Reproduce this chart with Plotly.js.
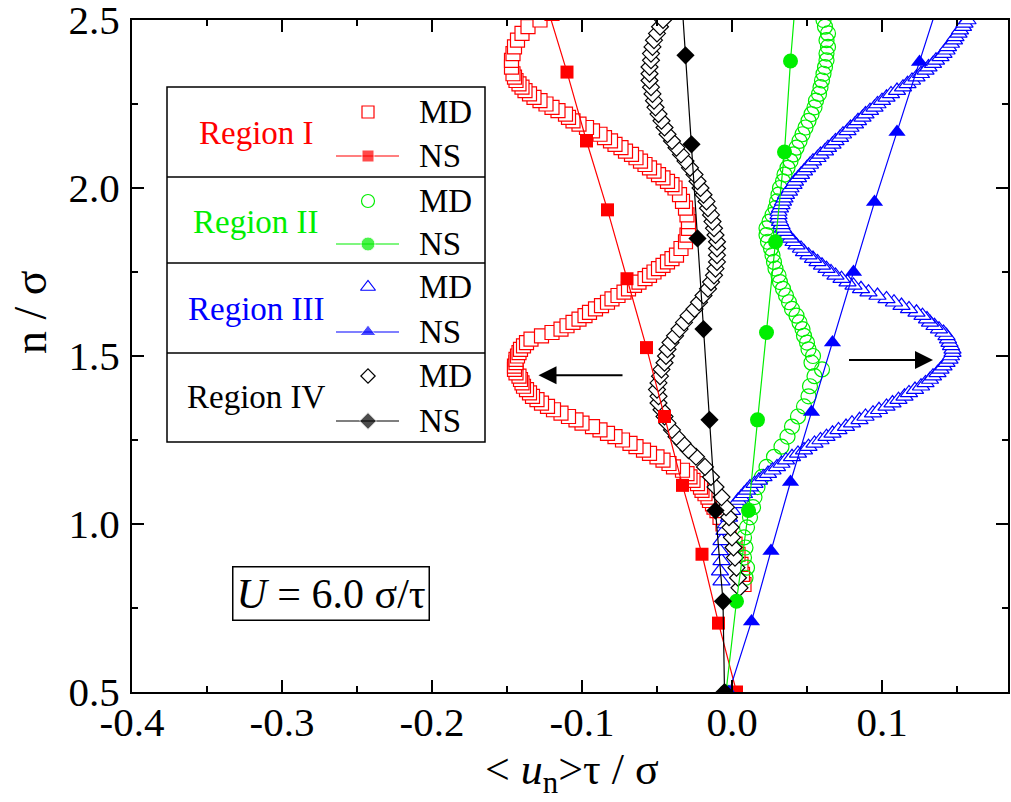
<!DOCTYPE html>
<html>
<head>
<meta charset="utf-8">
<script src="https://cdn.plot.ly/plotly-3.0.1.min.js"></script>
<style>body{margin:0;background:#fff}</style>
</head>
<body>
<div id="chart" style="width:1011px;height:802px"></div>
<script>
// MD profiles (open symbols): n/sigma and <u_n> tau/sigma
var mdN_I = [0.82,0.85,0.88,0.91,0.94,0.97,1.00,1.02,1.04,1.05,
    1.06,1.07,1.08,1.09,1.10,1.11,1.12,1.13,1.14,1.15,
    1.16,1.17,1.18,1.19,1.20,1.21,1.22,1.23,1.24,1.25,
    1.26,1.27,1.28,1.29,1.30,1.31,1.32,1.33,1.34,1.35,
    1.36,1.37,1.38,1.39,1.40,1.41,1.42,1.43,1.44,1.45,
    1.46,1.47,1.48,1.49,1.50,1.51,1.52,1.53,1.54,1.55,
    1.56,1.57,1.58,1.59,1.60,1.61,1.62,1.63,1.64,1.65,
    1.66,1.67,1.68,1.69,1.70,1.71,1.72,1.73,1.74,1.75,
    1.76,1.77,1.78,1.79,1.80,1.82,1.84,1.86,1.88,1.90,
    1.92,1.94,1.96,1.98,2.00,2.01,2.02,2.03,2.04,2.05,
    2.06,2.07,2.08,2.09,2.10,2.11,2.12,2.13,2.14,2.15,
    2.16,2.17,2.18,2.19,2.20,2.21,2.22,2.23,2.24,2.25,
    2.26,2.27,2.28,2.29,2.30,2.31,2.32,2.33,2.34,2.36,
    2.38,2.40,2.42,2.44,2.46,2.48,2.50,2.52];
var mdU_I = [0.008,0.007,0.006,0.004,0.002,-0.002,-0.006,-0.008,-0.010,-0.012,
    -0.013,-0.015,-0.016,-0.018,-0.020,-0.021,-0.023,-0.026,-0.028,-0.030,
    -0.033,-0.039,-0.042,-0.046,-0.050,-0.055,-0.059,-0.064,-0.068,-0.073,
    -0.078,-0.083,-0.088,-0.093,-0.100,-0.104,-0.109,-0.114,-0.119,-0.123,
    -0.127,-0.130,-0.133,-0.135,-0.137,-0.139,-0.140,-0.141,-0.142,-0.144,
    -0.145,-0.145,-0.144,-0.144,-0.143,-0.142,-0.141,-0.139,-0.137,-0.134,
    -0.127,-0.120,-0.114,-0.110,-0.106,-0.102,-0.098,-0.095,-0.091,-0.087,
    -0.083,-0.080,-0.076,-0.072,-0.069,-0.065,-0.062,-0.058,-0.055,-0.052,
    -0.049,-0.046,-0.043,-0.040,-0.037,-0.034,-0.031,-0.030,-0.029,-0.029,
    -0.030,-0.031,-0.033,-0.035,-0.038,-0.040,-0.043,-0.046,-0.049,-0.052,
    -0.055,-0.058,-0.061,-0.064,-0.067,-0.071,-0.074,-0.078,-0.081,-0.085,
    -0.088,-0.093,-0.097,-0.102,-0.106,-0.109,-0.111,-0.116,-0.120,-0.124,
    -0.128,-0.132,-0.135,-0.138,-0.140,-0.142,-0.144,-0.145,-0.146,-0.147,
    -0.147,-0.146,-0.145,-0.143,-0.140,-0.136,-0.128,-0.120];

var mdN_II = [0.84,0.87,0.90,0.93,0.96,0.99,1.02,1.05,1.08,1.11,1.14,1.17,1.20,1.23,1.26,1.29,1.32,1.35,1.38,1.41,1.44,1.46,1.48,1.50,1.52,1.54,1.56,1.58,1.60,1.62,1.64,1.66,1.68,1.70,1.72,1.74,1.76,1.78,1.80,1.82,1.84,1.86,1.88,1.90,1.92,1.94,1.96,1.98,2.00,2.02,2.04,2.06,2.08,2.10,2.12,2.14,2.16,2.18,2.20,2.22,2.24,2.26,2.28,2.30,2.32,2.34,2.36,2.38,2.40,2.42,2.44,2.46,2.48,2.50];
var mdU_II = [0.009,0.010,0.008,0.009,0.008,0.010,0.012,0.014,0.015,0.017,0.020,0.023,0.028,0.033,0.037,0.040,0.044,0.048,0.051,0.052,0.055,0.060,0.053,0.054,0.051,0.050,0.048,0.047,0.045,0.043,0.040,0.038,0.036,0.034,0.032,0.031,0.029,0.028,0.027,0.026,0.024,0.023,0.023,0.025,0.027,0.029,0.030,0.031,0.032,0.034,0.035,0.037,0.039,0.041,0.043,0.045,0.047,0.049,0.051,0.053,0.055,0.056,0.058,0.059,0.060,0.061,0.062,0.063,0.063,0.064,0.063,0.064,0.062,0.061];

var mdN_III = [0.83,0.86,0.89,0.92,0.95,0.98,1.00,1.02,1.04,1.06,
    1.07,1.08,1.09,1.10,1.11,1.12,1.13,1.14,1.15,1.16,
    1.17,1.18,1.19,1.20,1.21,1.22,1.23,1.24,1.25,1.26,
    1.27,1.28,1.29,1.30,1.31,1.32,1.33,1.34,1.35,1.36,
    1.37,1.38,1.39,1.40,1.41,1.42,1.43,1.44,1.45,1.46,
    1.47,1.48,1.49,1.50,1.51,1.52,1.53,1.54,1.55,1.56,
    1.57,1.58,1.59,1.60,1.61,1.62,1.63,1.64,1.65,1.66,
    1.67,1.68,1.69,1.70,1.71,1.72,1.73,1.74,1.75,1.76,
    1.77,1.78,1.79,1.80,1.81,1.82,1.83,1.84,1.85,1.86,
    1.87,1.88,1.89,1.90,1.91,1.92,1.93,1.94,1.95,1.96,
    1.97,1.98,1.99,2.00,2.01,2.02,2.03,2.04,2.05,2.06,
    2.07,2.08,2.09,2.10,2.11,2.12,2.13,2.14,2.15,2.16,
    2.17,2.18,2.19,2.20,2.21,2.22,2.23,2.24,2.25,2.26,
    2.27,2.28,2.29,2.30,2.31,2.32,2.33,2.34,2.35,2.36,
    2.37,2.38,2.39,2.40,2.41,2.42,2.43,2.44,2.45,2.46,
    2.47,2.48,2.49,2.50];
var mdU_III = [-0.007,-0.008,-0.007,-0.008,-0.007,-0.005,-0.004,-0.002,0.000,0.003,
    0.004,0.006,0.008,0.010,0.012,0.015,0.018,0.021,0.024,0.027,
    0.030,0.033,0.036,0.040,0.044,0.048,0.051,0.055,0.059,0.063,
    0.067,0.071,0.076,0.080,0.085,0.089,0.094,0.098,0.103,0.107,
    0.111,0.115,0.118,0.122,0.126,0.129,0.132,0.134,0.137,0.139,
    0.141,0.143,0.145,0.146,0.147,0.147,0.146,0.145,0.144,0.143,
    0.141,0.138,0.135,0.132,0.130,0.127,0.123,0.118,0.113,0.108,
    0.103,0.097,0.091,0.086,0.081,0.077,0.073,0.069,0.066,0.063,
    0.060,0.057,0.054,0.051,0.048,0.046,0.043,0.041,0.039,0.037,
    0.035,0.034,0.033,0.032,0.031,0.031,0.031,0.032,0.033,0.034,
    0.035,0.036,0.038,0.039,0.041,0.042,0.044,0.046,0.048,0.050,
    0.052,0.054,0.057,0.059,0.062,0.064,0.067,0.069,0.072,0.074,
    0.077,0.079,0.082,0.084,0.087,0.089,0.092,0.095,0.097,0.100,
    0.103,0.106,0.110,0.114,0.117,0.120,0.123,0.126,0.129,0.131,
    0.134,0.136,0.139,0.141,0.143,0.144,0.146,0.148,0.149,0.151,
    0.152,0.154,0.155,0.157];

var mdN_IV = [0.81,0.84,0.87,0.90,0.93,0.96,0.99,1.02,1.05,1.08,1.11,1.14,1.17,1.20,1.22,1.24,1.26,1.28,1.30,1.32,1.34,1.36,1.38,1.40,1.42,1.44,1.46,1.48,1.50,1.52,1.54,1.56,1.58,1.60,1.62,1.64,1.66,1.68,1.70,1.72,1.74,1.76,1.78,1.80,1.82,1.84,1.86,1.88,1.90,1.92,1.94,1.96,1.98,2.00,2.02,2.04,2.06,2.08,2.10,2.12,2.14,2.16,2.18,2.20,2.22,2.24,2.26,2.28,2.30,2.32,2.34,2.36,2.38,2.40,2.42,2.44,2.46,2.48,2.50];
var mdU_IV = [0.005,0.004,0.003,0.002,0.001,0.000,-0.001,-0.002,-0.004,-0.007,-0.011,-0.014,-0.018,-0.024,-0.029,-0.033,-0.037,-0.040,-0.043,-0.045,-0.047,-0.049,-0.049,-0.050,-0.049,-0.048,-0.047,-0.045,-0.044,-0.043,-0.041,-0.038,-0.035,-0.032,-0.029,-0.025,-0.022,-0.019,-0.016,-0.014,-0.012,-0.011,-0.010,-0.010,-0.010,-0.010,-0.011,-0.012,-0.013,-0.014,-0.016,-0.017,-0.019,-0.021,-0.023,-0.025,-0.028,-0.031,-0.034,-0.037,-0.040,-0.043,-0.045,-0.047,-0.049,-0.051,-0.052,-0.053,-0.054,-0.055,-0.055,-0.055,-0.054,-0.054,-0.053,-0.052,-0.050,-0.048,-0.046];

// NS solutions (filled symbols with lines)
var nsN_I = [0.50,0.705,0.91,1.115,1.32,1.525,1.73,1.935,2.14,2.345,2.55];
var nsU_I = [0.003,-0.009,-0.020,-0.033,-0.045,-0.057,-0.070,-0.083,-0.097,-0.110,-0.124];
var nsN_II = [0.50,0.77,1.04,1.31,1.57,1.84,2.107,2.378,2.65];
var nsU_II = [-0.004,0.003,0.011,0.017,0.023,0.029,0.035,0.039,0.044];
var nsN_III = [0.50,0.71,0.92,1.125,1.333,1.54,1.75,1.958,2.167,2.375,2.585];
var nsU_III = [-0.002,0.013,0.026,0.039,0.053,0.067,0.081,0.095,0.110,0.125,0.140];
var nsN_IV = [0.50,0.77,1.04,1.31,1.58,1.85,2.13,2.395,2.665];
var nsU_IV = [-0.005,-0.006,-0.011,-0.015,-0.019,-0.023,-0.027,-0.031,-0.035];

// tick labels
var xTickVals = [-0.4, -0.3, -0.2, -0.1, 0, 0.1];
var xTickText = ['-0.4', '-0.3', '-0.2', '-0.1', '0.0', '0.1'];
var yTickVals = [0.5, 1.0, 1.5, 2.0, 2.5];
var yTickText = ['0.5', '1.0', '1.5', '2.0', '2.5'];

var regionNames = ['Region I', 'Region II', 'Region III', 'Region IV'];
var regionColors = ['#ff0000', '#00ee00', '#0000ff', '#000000'];
var mdSymbols = ['square', 'circle-open', 'triangle-up', 'diamond'];
var nsSymbols = ['square', 'circle', 'triangle-up', 'diamond'];
var mdSizes = [14, 15, 15, 13];
var nsSizes = [13, 15, 15, 14];

var mdN = [mdN_I, mdN_II, mdN_III, mdN_IV];
var mdU = [mdU_I, mdU_II, mdU_III, mdU_IV];
var nsN = [nsN_I, nsN_II, nsN_III, nsN_IV];
var nsU = [nsU_I, nsU_II, nsU_III, nsU_IV];

var FONT = 'Liberation Serif, Times New Roman, serif';

// plot area in pixels (for placing legend box and notes)
var L = 132, R = 1008, T = 20, B = 692;
function px(x) { return (x - L) / (R - L); }
function py(y) { return (B - y) / (B - T); }

var data = [];

for (var i = 0; i < 4; i++) {
    var open = mdSymbols[i].indexOf('open') >= 0;
    data.push({
        x: mdU[i], y: mdN[i],
        type: 'scatter', mode: 'markers',
        marker: {
            symbol: mdSymbols[i],
            size: mdSizes[i],
            color: open ? regionColors[i] : 'white',
            line: {color: regionColors[i], width: 1.2}
        },
        showlegend: false
    });
}

for (var i = 0; i < 4; i++) {
    data.push({
        x: nsU[i], y: nsN[i],
        type: 'scatter', mode: 'lines+markers',
        line: {color: regionColors[i], width: 1.2},
        marker: {symbol: nsSymbols[i], size: nsSizes[i], color: regionColors[i]},
        showlegend: false
    });
}

// legend keys, drawn on an overlay axis measured in pixels
var legendRows = [[112, 156], [201, 244], [287, 332], [376, 421]];
var keyX = 368, keyL = 336, keyR = 399, keyText = 417;

var shapes = [{
    type: 'rect', xref: 'paper', yref: 'paper',
    x0: px(167), x1: px(485), y0: py(87), y1: py(442),
    line: {color: 'black', width: 1.5}, fillcolor: 'white', layer: 'below'
}];
[177, 263, 353].forEach(function (yy) {
    shapes.push({
        type: 'line', xref: 'paper', yref: 'paper',
        x0: px(167), x1: px(485), y0: py(yy), y1: py(yy),
        line: {color: 'black', width: 1.5}
    });
});

var annotations = [];

for (var i = 0; i < 4; i++) {
    var open = mdSymbols[i].indexOf('open') >= 0;
    data.push({
        x: [keyX], y: [legendRows[i][0]],
        xaxis: 'x2', yaxis: 'y2',
        type: 'scatter', mode: 'markers',
        marker: {
            symbol: mdSymbols[i], size: mdSizes[i] - 2,
            color: open ? regionColors[i] : 'white',
            line: {color: regionColors[i], width: 1.2}
        },
        showlegend: false, hoverinfo: 'skip'
    });
    data.push({
        x: [keyL, keyX, keyR], y: [legendRows[i][1], legendRows[i][1], legendRows[i][1]],
        xaxis: 'x2', yaxis: 'y2',
        type: 'scatter', mode: 'lines+markers',
        line: {color: regionColors[i], width: 1.2},
        marker: {symbol: nsSymbols[i], size: [0, nsSizes[i] - 1, 0], color: regionColors[i]},
        showlegend: false, hoverinfo: 'skip'
    });
    annotations.push({
        xref: 'paper', yref: 'paper',
        x: px(256), y: py((legendRows[i][0] + legendRows[i][1]) / 2 - 1),
        text: regionNames[i], showarrow: false,
        xanchor: 'center', yanchor: 'middle',
        font: {family: FONT, size: 33, color: regionColors[i]}
    });
    annotations.push({
        xref: 'paper', yref: 'paper',
        x: px(keyText), y: py(legendRows[i][0]),
        text: 'MD', showarrow: false, xanchor: 'left', yanchor: 'middle',
        font: {family: FONT, size: 33, color: 'black'}
    });
    annotations.push({
        xref: 'paper', yref: 'paper',
        x: px(keyText), y: py(legendRows[i][1]),
        text: 'NS', showarrow: false, xanchor: 'left', yanchor: 'middle',
        font: {family: FONT, size: 33, color: 'black'}
    });
}

// velocity note
annotations.push({
    xref: 'paper', yref: 'paper', x: px(331), y: py(593),
    text: '<i>U</i> = 6.0 σ/τ', showarrow: false,
    xanchor: 'center', yanchor: 'middle',
    bordercolor: 'black', borderwidth: 1.5, borderpad: 3,
    font: {family: FONT, size: 42, color: 'black'}
});

// arrows marking peak displacement
annotations.push({
    x: -0.129, y: 1.443, ax: -0.071, ay: 1.443,
    xref: 'x', yref: 'y', axref: 'x', ayref: 'y',
    showarrow: true, arrowhead: 2, arrowsize: 1.8, arrowwidth: 2, arrowcolor: 'black', text: ' '
});
annotations.push({
    x: 0.134, y: 1.488, ax: 0.076, ay: 1.488,
    xref: 'x', yref: 'y', axref: 'x', ayref: 'y',
    showarrow: true, arrowhead: 2, arrowsize: 1.8, arrowwidth: 2, arrowcolor: 'black', text: ' '
});

// axis titles
annotations.push({
    xref: 'paper', yref: 'paper', x: px(30), y: py(312),
    text: 'n / σ', textangle: -90, showarrow: false,
    xanchor: 'center', yanchor: 'middle',
    font: {family: FONT, size: 46, color: 'black'}
});
annotations.push({
    xref: 'paper', yref: 'paper', x: px(572), y: py(772),
    text: '&lt; <i>u</i><sub>n</sub>&gt;τ / σ', showarrow: false,
    xanchor: 'center', yanchor: 'middle',
    font: {family: FONT, size: 44, color: 'black'}
});

var axisCommon = {
    showgrid: false, zeroline: false,
    showline: true, linecolor: 'black', linewidth: 2,
    mirror: 'allticks',
    ticks: 'inside', ticklen: 12, tickwidth: 2, tickcolor: 'black',
    tickmode: 'array',
    ticklabeloverflow: 'allow',
    tickfont: {family: FONT, size: 41, color: 'black'}
};

var layout = {
    width: 1011, height: 802,
    margin: {l: L, r: 1011 - R, t: T, b: 802 - B},
    paper_bgcolor: 'white', plot_bgcolor: 'white',
    showlegend: false,
    xaxis: Object.assign({}, axisCommon, {
        range: [-0.4, 0.184], tickvals: xTickVals, ticktext: xTickText,
        ticklabelstandoff: -7,
        minor: {ticks: 'inside', ticklen: 6, tickwidth: 2, tick0: -0.35, dtick: 0.1, tickcolor: 'black'}
    }),
    yaxis: Object.assign({}, axisCommon, {
        range: [0.5, 2.5], tickvals: yTickVals, ticktext: yTickText,
        ticklabelstandoff: 2,
        minor: {ticks: 'inside', ticklen: 6, tickwidth: 2, tick0: 0.75, dtick: 0.5, tickcolor: 'black'}
    }),
    xaxis2: {overlaying: 'x', anchor: 'y2', range: [L, R], visible: false, fixedrange: true},
    yaxis2: {overlaying: 'y', anchor: 'x2', range: [B, T], visible: false, fixedrange: true},
    shapes: shapes,
    annotations: annotations
};

Plotly.newPlot('chart', data, layout, {displayModeBar: false, staticPlot: true});
</script>
</body>
</html>
